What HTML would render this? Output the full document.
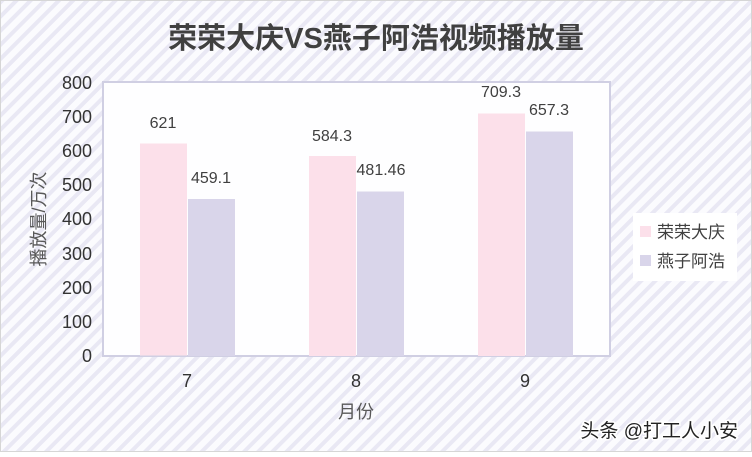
<!DOCTYPE html><html><head><meta charset="utf-8"><style>
body{margin:0;width:752px;height:452px;overflow:hidden;font-family:"Liberation Sans","Noto Sans CJK SC",sans-serif}
</style></head><body>
<svg width="752" height="452" xmlns="http://www.w3.org/2000/svg" font-family="Liberation Sans, Noto Sans CJK SC, sans-serif">
<defs><pattern id="p" width="10" height="10" patternUnits="userSpaceOnUse" patternTransform="rotate(45)">
<rect width="10" height="10" fill="#fbfbfe"/><rect width="4" height="10" fill="#e9e8f4"/></pattern></defs>
<rect width="752" height="452" fill="url(#p)"/>
<rect x="0.5" y="0.5" width="751" height="451" fill="none" stroke="#d6d6d6"/>
<text x="376" y="48" text-anchor="middle" font-size="29" font-weight="bold" fill="#404040">荣荣大庆VS燕子阿浩视频播放量</text>
<rect x="103" y="82" width="507" height="274" fill="#fefeff" stroke="#d0cfe3" stroke-width="2"/>
<g font-size="18" fill="#333" text-anchor="end">
<text x="92" y="89">800</text><text x="92" y="123">700</text><text x="92" y="157">600</text><text x="92" y="191">500</text><text x="92" y="225">400</text><text x="92" y="260">300</text><text x="92" y="294">200</text><text x="92" y="328">100</text><text x="92" y="362">0</text></g>
<g fill="#fce0ea"><rect x="140" y="143.5" width="47" height="212"/><rect x="309" y="156" width="47" height="200"/><rect x="478" y="113.5" width="47" height="242.5"/></g>
<g fill="#d9d5ea"><rect x="188" y="199" width="47" height="157"/><rect x="357" y="191.5" width="47" height="164.5"/><rect x="526" y="131.5" width="47" height="224.5"/></g>
<g font-size="16" fill="#404040" text-anchor="middle">
<text x="163" y="128">621</text><text x="211" y="183">459.1</text>
<text x="332" y="141">584.3</text><text x="381" y="175">481.46</text>
<text x="501" y="97">709.3</text><text x="549" y="115">657.3</text></g>
<g font-size="18" fill="#333" text-anchor="middle"><text x="187" y="387">7</text><text x="356" y="387">8</text><text x="525" y="387">9</text></g>
<text x="356" y="418" text-anchor="middle" font-size="18" fill="#595959">月份</text>
<text transform="translate(45,219) rotate(-90)" text-anchor="middle" font-size="18" fill="#595959">播放量/万次</text>
<rect x="633" y="213" width="104" height="68" fill="#fff"/>
<rect x="640" y="226" width="11" height="11" fill="#fce0ea"/><rect x="640" y="255" width="11" height="11" fill="#d9d5ea"/>
<text x="657" y="238" font-size="17" fill="#404040">荣荣大庆</text><text x="657" y="267" font-size="17" fill="#404040">燕子阿浩</text>
<text x="738" y="437" text-anchor="end" font-size="19" fill="#222" stroke="#fff" stroke-width="3" paint-order="stroke">头条 @打工人小安</text>
</svg></body></html>
